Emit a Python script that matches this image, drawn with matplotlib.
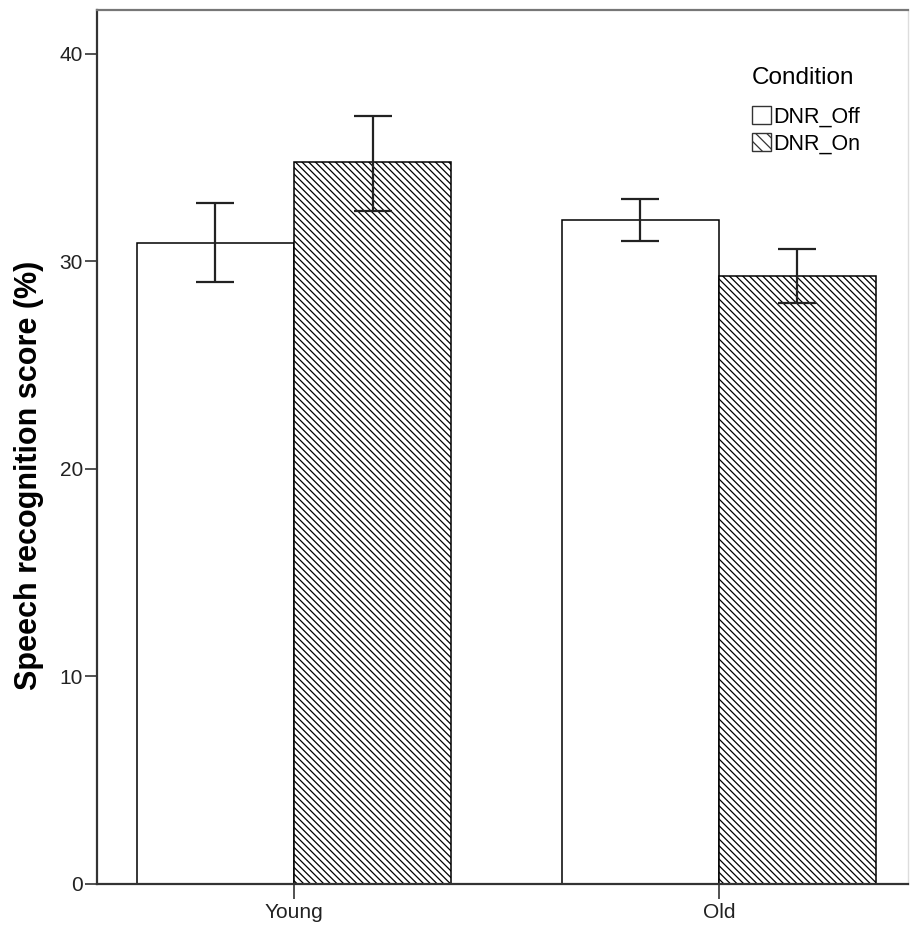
import numpy as np
import matplotlib.pyplot as plt
from matplotlib.patches import Patch

plt.rcParams['font.family'] = ['Liberation Sans', 'DejaVu Sans']
plt.rcParams['hatch.linewidth'] = 0.9

groups = ["Young", "Old"]
conditions = ["DNR_Off", "DNR_On"]
means_off = [30.9, 32.0]
means_on = [34.8, 29.3]
err_off_low = [29.0, 31.0]
err_off_high = [32.8, 33.0]
err_on_low = [32.45, 28.0]
err_on_high = [37.0, 30.6]

x = np.arange(len(groups))
width = 0.37

fig = plt.figure(figsize=(9.1, 9.26), dpi=100)
ax = fig.add_axes([0.1066, 0.0454, 0.891, 0.9438])

def draw(offset, means, lo, hi, hatch):
    pos = x + offset
    ax.bar(pos, means, width, color="white", edgecolor="black", linewidth=1.1,
           hatch=hatch, zorder=2)
    m = np.array(means)
    yerr = [m - np.array(lo), np.array(hi) - m]
    ax.errorbar(pos, m, yerr=yerr, fmt="none", ecolor="#222222", elinewidth=1.6,
                capsize=14, capthick=1.6, zorder=3)

draw(-width / 2, means_off, err_off_low, err_off_high, None)
draw(width / 2, means_on, err_on_low, err_on_high, "\\\\\\\\\\")

ax.set_xlim(-0.4635, 1.4447)
ax.set_ylim(0, 42.12)
ax.set_yticks([0, 10, 20, 30, 40])
ax.set_xticks(x)
ax.set_xticklabels(groups)

for side in ["left", "bottom"]:
    ax.spines[side].set_color("#333333")
    ax.spines[side].set_linewidth(1.6)
ax.spines["top"].set_color("#777777")
ax.spines["top"].set_linewidth(1.6)
ax.spines["right"].set_color("#dddddd")
ax.spines["right"].set_linewidth(1.0)

ax.tick_params(axis="y", length=9, width=1.2, color="#333333", labelsize=15,
               labelcolor="#222222", pad=1)
ax.tick_params(axis="x", length=11, width=1.2, color="#333333", labelsize=15,
               labelcolor="#222222", pad=3)

ax.set_ylabel("Speech recognition score (%)", fontsize=22, fontweight="bold")
ax.yaxis.set_label_coords(-0.0655, 0.468)

handles = [Patch(facecolor="white", edgecolor="#333333", label=conditions[0]),
           Patch(facecolor="white", edgecolor="#333333", hatch="\\\\\\", label=conditions[1])]
leg = ax.legend(handles=handles, title="Condition", loc="upper left",
                bbox_to_anchor=(0.794, 0.947), frameon=False, fontsize=15.5,
                title_fontsize=17.5, handlelength=0.9, handleheight=0.9,
                handletextpad=0.1, labelspacing=0.25, borderpad=0)
leg._legend_box.align = "left"
leg._legend_box.sep = 12.5

fig.savefig("out.png", dpi=100)
